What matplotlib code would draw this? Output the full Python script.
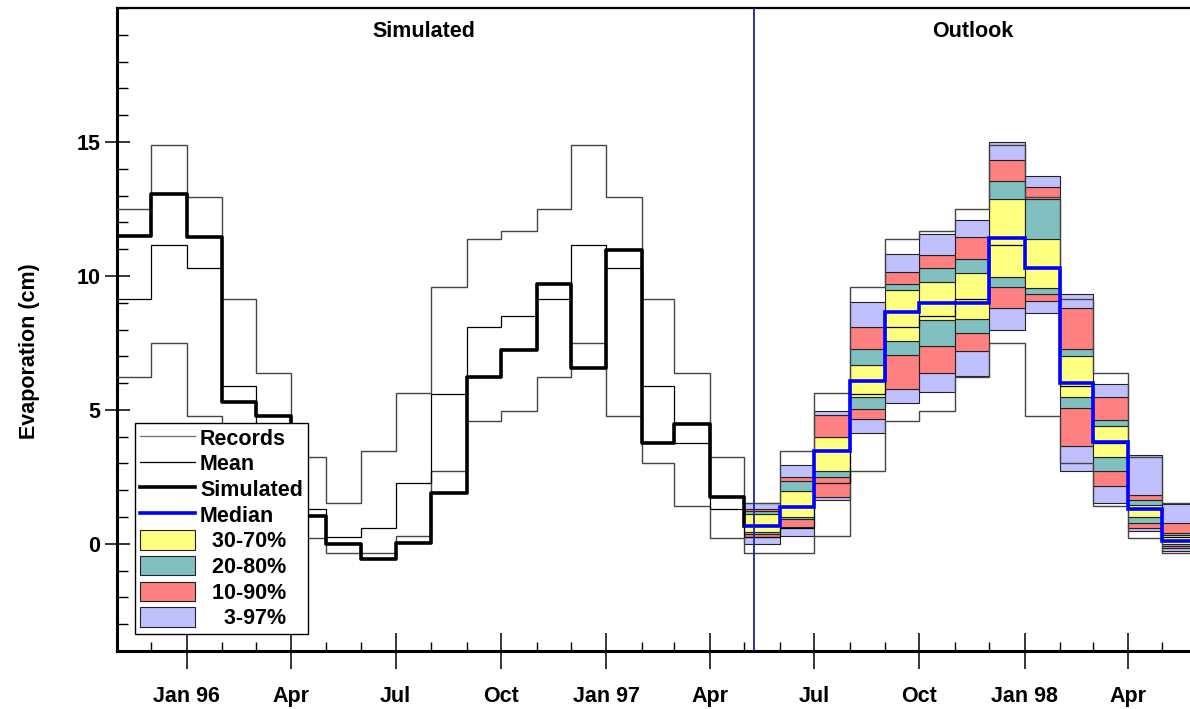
import numpy as np
import pandas as pd
import matplotlib
matplotlib.use("Agg")
import matplotlib.pyplot as plt
import matplotlib.dates as mdates
from matplotlib.ticker import MultipleLocator, FuncFormatter
from matplotlib.lines import Line2D
from matplotlib.patches import Patch

plt.rcParams["font.family"] = ["Liberation Sans", "DejaVu Sans"]
plt.rcParams["font.weight"] = "bold"

# monthly climatology by calendar month, Jan..Dec (cm)
rec_max = [12.93, 9.13, 6.39, 3.24, 1.53, 3.47, 5.63, 9.60, 11.37, 11.68, 12.48, 14.90]
clim_mean = [10.29, 5.90, 3.78, 1.29, 0.26, 0.60, 2.28, 5.60, 8.08, 8.51, 9.14, 11.17]
rec_min = [4.76, 3.01, 1.40, 0.21, -0.36, -0.36, 0.29, 2.71, 4.60, 4.96, 6.23, 7.50]

# simulated evaporation, Nov 1995 .. Apr 1997
simulated = [11.50, 13.04, 11.45, 5.30, 4.78, 1.03, 0.01, -0.58, 0.04, 1.88,
             6.21, 7.24, 9.70, 6.55, 10.98, 3.77, 4.48, 1.74]

# outlook percentiles, May 1997 .. May 1998
p03 = [0.01, 0.29, 1.64, 4.12, 5.26, 5.66, 6.27, 7.98, 8.63, 2.71, 1.52, 0.47, -0.25]
p10 = [0.26, 0.61, 1.75, 4.67, 5.78, 6.38, 7.20, 8.82, 9.05, 3.67, 2.17, 0.58, -0.15]
p20 = [0.36, 0.94, 2.49, 5.03, 7.05, 7.37, 7.88, 9.58, 9.34, 5.07, 2.71, 0.76, -0.08]
p30 = [0.44, 1.00, 2.73, 5.48, 7.56, 8.35, 8.38, 9.96, 9.54, 5.49, 3.24, 1.00, -0.01]
p50 = [0.65, 1.37, 3.46, 6.06, 8.64, 8.98, 9.00, 11.43, 10.31, 6.00, 3.79, 1.31, 0.09]
p70 = [1.13, 1.97, 3.98, 6.68, 9.47, 9.78, 10.10, 12.86, 11.36, 7.00, 4.38, 1.46, 0.33]
p80 = [1.21, 2.34, 4.00, 7.27, 9.71, 10.31, 10.65, 13.56, 12.86, 7.27, 4.63, 1.62, 0.40]
p90 = [1.31, 2.49, 4.81, 8.08, 10.16, 10.78, 11.44, 14.34, 13.31, 8.80, 5.47, 1.81, 0.76]
p97 = [1.53, 2.95, 4.95, 9.03, 10.81, 11.55, 12.07, 15.00, 13.72, 9.34, 5.97, 3.30, 1.50]

forecast_date = "1997-05-10"

YELLOW, TEAL, RED, LAVENDER = "#ffff80", "#80c0c0", "#ff8080", "#c0c0ff"

edges = pd.date_range("1995-11-01", "1998-06-01", freq="MS")
x_edges = mdates.date2num(edges.to_pydatetime())
months = edges[:-1].month
n_sim = len(simulated)
x_out = x_edges[n_sim:]

fig = plt.figure(figsize=(11.9, 7.09), dpi=100)
ax = fig.add_axes([0.0983, 0.0818, 0.9017, 0.9069])

# percentile boxes for the outlook months
left = x_out[:-1]
width = np.diff(x_out)
bands = [(p03, p10, LAVENDER), (p10, p20, RED), (p20, p30, TEAL), (p30, p70, YELLOW),
         (p70, p80, TEAL), (p80, p90, RED), (p90, p97, LAVENDER)]
for lo, hi, col in bands:
    lo, hi = np.asarray(lo), np.asarray(hi)
    ax.bar(left, hi - lo, width, bottom=lo, align="edge", color=col,
           edgecolor="#222222", linewidth=0.8, zorder=2)

# climatology across the whole period
clim_of = lambda arr: [arr[m - 1] for m in months]
ax.stairs(clim_of(rec_max), x_edges, baseline=None, color="#444444", lw=1.0, zorder=3)
ax.stairs(clim_of(rec_min), x_edges, baseline=None, color="#444444", lw=1.0, zorder=3)
ax.stairs(clim_of(clim_mean), x_edges, baseline=None, color="black", lw=0.9, zorder=3)

# simulated series, dropping into the first outlook median
ax.step(x_edges[:n_sim + 1], simulated + [p50[0]], where="post",
        color="black", lw=2.6, zorder=4)
ax.stairs(p50, x_out, baseline=None, color="#0000ff", lw=2.6, zorder=5)

ax.axvline(mdates.datestr2num(forecast_date), color="#22229a", lw=1.3, zorder=6)

ax.text(0.286, 0.963, "Simulated", transform=ax.transAxes, ha="center", va="center",
        fontsize=15.5, fontweight="bold")
ax.text(0.798, 0.963, "Outlook", transform=ax.transAxes, ha="center", va="center",
        fontsize=15.5, fontweight="bold")

ax.set_xlim(mdates.datestr2num("1995-11-01"), mdates.datestr2num("1998-05-25"))
ax.set_ylim(-4, 20)

ax.xaxis.set_major_locator(mdates.MonthLocator(bymonth=[1, 4, 7, 10]))
ax.xaxis.set_minor_locator(mdates.MonthLocator())


def month_label(x, pos):
    d = mdates.num2date(x)
    return f"Jan {d:%y}" if d.month == 1 else d.strftime("%b")


ax.xaxis.set_major_formatter(FuncFormatter(month_label))
ax.set_yticks([0, 5, 10, 15])
ax.yaxis.set_minor_locator(MultipleLocator(1))

ax.tick_params(axis="x", which="major", direction="inout", length=26, width=1.1,
               pad=12, labelsize=15.5)
ax.tick_params(axis="x", which="minor", direction="in", length=6.5, width=1.0)
ax.tick_params(axis="y", which="major", direction="inout", length=18, width=1.1,
               pad=3, labelsize=15.5)
ax.tick_params(axis="y", which="minor", direction="in", length=8, width=1.0)

ax.set_ylabel("Evaporation (cm)", fontsize=15.5, fontweight="bold")
ax.yaxis.set_label_coords(-0.072, 0.467)

ax.spines["right"].set_visible(False)
ax.spines["left"].set_linewidth(2.2)
ax.spines["bottom"].set_linewidth(2.2)
ax.spines["top"].set_linewidth(1.6)

handles = [
    Line2D([], [], color="#777777", lw=1.0),
    Line2D([], [], color="black", lw=0.9),
    Line2D([], [], color="black", lw=2.6),
    Line2D([], [], color="#0000ff", lw=2.6),
    Patch(facecolor=YELLOW, edgecolor="#222222", lw=0.8),
    Patch(facecolor=TEAL, edgecolor="#222222", lw=0.8),
    Patch(facecolor=RED, edgecolor="#222222", lw=0.8),
    Patch(facecolor=LAVENDER, edgecolor="#222222", lw=0.8),
]
labels = ["Records", "Mean", "Simulated", "Median",
          "  30-70%", "  20-80%", "  10-90%", "    3-97%"]
leg = ax.legend(handles, labels, loc="lower left", bbox_to_anchor=(0.0168, 0.0264),
                borderaxespad=0, frameon=True, fancybox=False, edgecolor="black",
                framealpha=1, handlelength=2.55, handleheight=1.0, handletextpad=0.25,
                labelspacing=0.17, borderpad=0.22,
                prop={"weight": "bold", "size": 15.5})
leg.get_frame().set_linewidth(1.0)
leg.set_zorder(10)

fig.savefig("out.png", dpi=100)
